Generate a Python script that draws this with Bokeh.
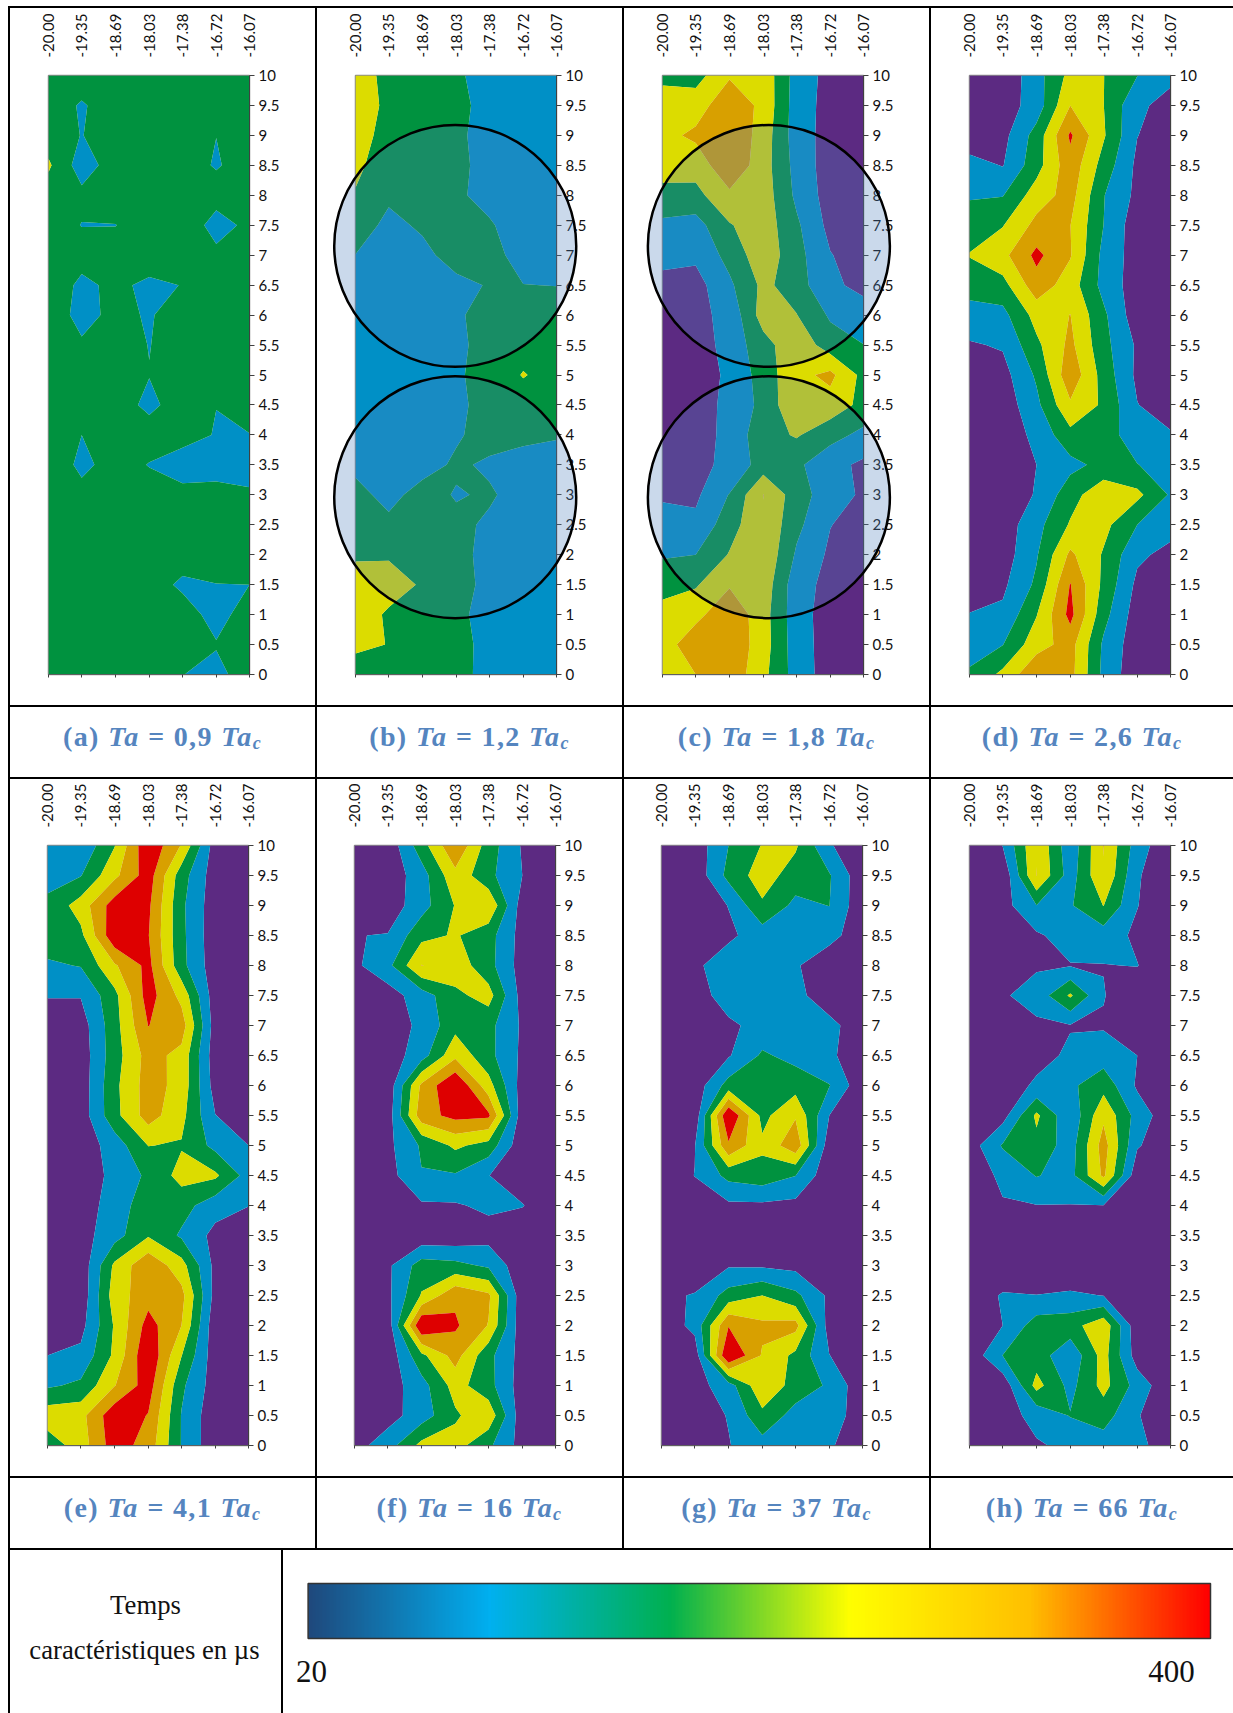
import numpy as np
from bokeh.embed import file_html
from bokeh.resources import INLINE
from bokeh.layouts import column, row
from bokeh.models import (CustomJSTickFormatter, Div, FixedTicker, LinearAxis,
                          LinearColorMapper, NumeralTickFormatter, Range1d, Spacer)
from bokeh.plotting import figure
from bokeh.core.properties import value

x_values = [-20.00, -19.35, -18.69, -18.03, -17.38, -16.72, -16.07]
y_values = [10, 9.5, 9, 8.5, 8, 7.5, 7, 6.5, 6, 5.5, 5, 4.5, 4, 3.5, 3, 2.5, 2, 1.5, 1, 0.5, 0]
y_ticks = [0, 0.5, 1, 1.5, 2, 2.5, 3, 3.5, 4, 4.5, 5, 5.5, 6, 6.5, 7, 7.5, 8, 8.5, 9, 9.5, 10]
levels = [-1, 1, 2, 3, 4, 5, 8]
band_colors = ["#5C2A82", "#0090C6", "#00923F", "#DCDC00", "#D8A000", "#DE0000"]

panel_a = [
 [2.5,2.5,2.5,2.5,2.5,2.5,2.5],[2.5,1.9,2.5,2.5,2.5,2.5,2.5],[2.5,1.97,2.5,2.5,2.5,2.01,2.5],
 [3.15,1.5,2.5,2.5,2.5,1.9,2.5],[2.5,2.25,2.5,2.5,2.5,2.5,2.5],[2.5,1.97,1.98,2.5,2.9,1.5,2.3],
 [2.5,2.5,2.5,2.8,2.5,2.3,2.5],[2.9,1.7,2.3,1.7,2.04,2.5,2.5],[2.9,1.5,2.4,1.85,2.8,2.5,2.5],
 [2.5,2.2,2.5,1.97,2.5,2.5,2.5],[2.5,2.5,2.5,2.03,2.5,2.5,2.5],[2.5,2.5,2.5,1.75,2.5,2.01,2.5],
 [2.5,2.0,2.5,2.5,2.3,1.95,1.97],[2.9,1.7,2.5,1.95,1.6,1.3,1.4],[2.5,2.4,2.5,2.5,2.25,2.55,2.2],
 [2.5,2.5,2.5,2.5,2.5,2.5,2.5],[2.5,2.5,2.5,2.5,2.5,2.5,2.5],[2.5,2.5,2.5,2.5,1.8,1.98,2.0],
 [2.5,2.5,2.5,2.5,2.5,1.6,2.5],[2.5,2.5,2.5,2.5,2.5,2.07,2.5],[2.5,2.5,2.5,2.5,2.02,1.7,2.53]]
panel_b = [
 [3.5,2.7,2.5,2.15,1.6,1.5,1.5],[3.5,2.8,2.6,2.2,1.75,1.5,1.5],[3.4,2.66,2.6,2.15,1.7,1.5,1.5],
 [3.3,2.27,2.6,2.2,1.72,1.5,1.5],[2.9,2.2,2.5,2.15,1.7,1.5,1.5],[2.6,1.7,2.17,2.5,2.1,1.5,1.5],
 [1.98,1.5,1.7,2.47,2.4,1.55,1.5],[1.5,1.5,1.5,1.7,2.08,2.02,1.98],[1.5,1.5,1.5,1.85,2.4,2.5,2.5],
 [1.5,1.5,1.5,1.8,2.34,2.6,2.6],[1.5,1.5,1.5,1.87,2.37,3.06,2.6],[1.5,1.5,1.5,1.8,2.34,2.5,2.5],
 [1.5,1.5,1.5,1.85,2.48,2.3,2.1],[1.7,1.6,1.5,2.2,1.8,1.5,1.5],[2.4,1.6,2.5,1.9,2.15,1.5,1.5],
 [2.6,2.3,2.5,2.3,1.8,1.5,1.5],[2.85,2.9,2.6,2.3,1.7,1.5,1.5],[3.5,3.4,2.9,2.3,1.78,1.5,1.5],
 [3.5,2.87,2.6,2.2,1.68,1.5,1.5],[3.4,2.95,2.6,2.3,1.72,1.5,1.5],[2.05,2.6,2.6,2.3,1.7,1.5,1.5]]
panel_c = [
 [2.85,2.6,3.9,3.7,1.57,.67,.5],[3.3,3.55,4.67,3.75,1.5,.64,.5],[3.72,4.2,4.9,3.55,1.5,.6,.5],
 [3.35,3.4,4.8,3.45,1.65,.5,.5],[2.75,2.7,3.8,3.54,1.79,.55,.5],[1.76,1.6,2.92,3.57,2.18,.7,.5],
 [1.3,1.2,2.34,3.64,2.36,1.05,.5],[.7,.62,1.81,3.24,2.51,1.09,.88],[.7,.75,1.27,3.47,3.03,1.86,1.2],
 [.5,.45,1.4,2.6,3.74,2.46,2.02],[.5,.65,1.13,2.47,3.7,4.25,2.69],[.5,.65,1.2,2.3,3.85,3.6,2.7],
 [.5,.5,1.32,2.6,3.1,2.35,1.74],[.5,.83,1.15,2.5,2.2,1.33,.8],[.8,.82,2.05,4.02,2.47,1.45,.85],
 [1.6,1.23,2.56,3.9,2.26,1.03,.6],[1.9,2.0,3.07,3.86,1.86,.82,.5],[2.6,2.9,3.9,3.62,1.4,.71,.5],
 [3.4,3.7,4.75,3.42,1.42,.55,.5],[3.5,4.66,4.8,3.46,1.46,.56,.5],[3.1,4.0,4.7,3.27,1.57,.5,.5]]
panel_d = [
 [.3,.25,1.6,3.3,3.02,2.02,1.2],[.3,.52,1.43,4.0,3.02,1.17,.7],[.3,.68,2.4,5.15,3.12,1.02,.5],
 [1.4,.95,2.6,4.65,2.6,.78,.5],[1.9,1.95,3.5,4.4,2.05,.75,.5],[2.5,2.95,4.3,4.02,2.0,.4,.4],
 [3.05,3.72,5.25,4.08,1.71,.53,.4],[2.4,2.64,4.6,3.5,1.68,.47,.4],[1.6,1.7,3.37,4.02,2.2,.4,.4],
 [.9,1.1,2.78,4.25,2.33,.85,.5],[.5,.63,2.15,4.7,2.6,.78,.5],[.3,.4,1.75,3.85,2.83,1.03,.5],
 [.3,.4,1.25,2.7,2.6,1.3,1.1],[.3,.5,1.0,1.7,2.3,2.03,1.5],[.3,.6,1.05,2.6,3.7,3.25,1.88],
 [.3,.45,1.67,3.1,3.3,2.0,1.4],[.3,.5,1.9,4.2,2.9,1.2,.7],[.7,.8,2.2,5.05,2.76,.76,.6],
 [1.02,1.2,2.95,5.3,2.35,.5,.4],[1.7,1.97,3.6,4.4,1.83,.4,.4],[2.1,3.25,4.85,4.34,1.74,.3,.3]]
panel_e = [
 [1.6,1.2,2.95,5.85,3.93,.48,.3],[1.7,1.95,3.75,5.5,2.45,.45,.3],[2.2,3.45,5.5,5.2,2.2,.4,.3],
 [2.55,2.75,5.75,5.05,2.25,.35,.3],[1.85,2.05,3.87,5.3,2.3,.4,.3],[1.05,1.05,2.7,5.45,3.7,.4,.3],
 [.5,.5,2.6,5.02,4.5,.5,.3],[.3,.4,2.56,4.38,3.7,.4,.3],[.3,.4,2.75,4.45,3.65,.55,.3],
 [.3,.45,2.68,4.45,3.3,1.02,.5],[.3,.4,1.45,3.02,2.92,1.7,1.0],[.3,.5,1.22,2.2,3.35,3.19,1.58],
 [.3,.6,1.34,2.7,2.4,1.4,1.02],[.3,.6,1.6,2.9,1.85,.7,.4],[.3,.3,3.2,4.8,3.4,.7,.3],
 [.3,.3,3.5,4.6,4.33,.63,.3],[.3,.65,3.1,5.4,4.0,.3,.3],[1.0,1.25,3.2,5.89,3.03,.4,.3],
 [1.85,2.2,3.95,5.5,2.2,.5,.3],[3.6,3.68,5.68,4.95,1.95,.3,.3],[2.4,3.5,5.52,4.58,1.95,.3,.3]]
panel_f = [
 [.3,.3,2.55,4.9,2.5,.9,.3],[.3,.35,1.55,3.7,2.27,1.0,.3],[.3,.4,1.6,3.05,3.9,.5,.3],
 [.97,1.05,2.7,3.1,2.4,.6,.3],[.8,1.7,4.03,3.6,2.35,.55,.3],[.3,.55,1.5,2.75,3.4,.6,.3],
 [.3,.5,1.2,2.68,2.3,.85,.3],[.3,.45,1.53,3.75,2.3,.8,.3],[.3,.3,4.2,6.0,3.4,.55,.3],
 [.3,.44,4.6,5.3,5.2,.4,.3],[.3,.74,2.13,3.2,2.6,.3,.3],[.3,.6,1.95,1.9,1.02,.4,.3],
 [.3,.3,.85,.9,1.2,1.05,.3],[.3,.3,.3,.3,.6,.3,.3],[.3,.8,2.47,2.3,1.83,.3,.3],
 [.3,.75,3.08,4.8,4.2,.3,.3],[.3,.36,6.0,5.15,3.95,.3,.3],[.3,.3,2.75,4.4,2.3,.6,.3],
 [.3,.5,1.6,3.4,2.35,.5,.3],[.3,.6,1.5,2.85,3.7,.35,.3],[.6,1.55,3.3,3.4,2.2,.6,.3]]
panel_g = [
 [.3,.4,2.0,3.05,3.15,1.1,.3],[.3,.3,2.3,3.5,2.5,2.1,.3],[.3,.3,1.03,2.85,1.75,2.02,.3],
 [.3,.3,.8,1.5,1.5,1.3,.47],[.3,.8,1.57,1.5,1.1,.4,.3],[.3,.5,1.5,1.5,1.2,.6,.3],
 [.3,.3,.8,1.35,1.6,1.2,.6],[.3,.3,.9,2.15,1.67,1.12,.6],[.3,.4,2.4,3.0,2.6,2.05,.3],
 [.3,.3,6.0,2.7,3.9,1.0,.3],[.3,.95,4.85,3.2,4.7,.4,.3],[.3,1.02,2.3,2.6,2.02,.3,.3],
 [.3,.5,.8,.8,.7,.3,.3],[.3,.3,.3,.3,.3,.3,.3],[.3,.5,.9,.85,.7,.3,.3],
 [.85,1.05,2.4,3.0,2.25,.8,.3],[.3,1.3,4.95,4.2,4.35,.55,.3],[.3,.4,6.1,3.9,2.75,1.02,.3],
 [.3,.6,1.53,3.8,2.6,1.85,.3],[.3,.5,1.05,2.75,1.6,1.5,.5],[.3,.3,.95,1.6,1.6,1.1,.5]]
panel_h = [
 [.2,1.03,3.95,1.3,4.03,1.5,.2],[.2,.2,4.02,1.5,3.95,1.1,.3],[.2,.6,1.98,1.9,3.02,1.03,.3],
 [.2,.3,.85,1.45,1.5,.8,.3],[.2,.3,.9,.95,.97,1.03,.3],[.2,.9,1.35,3.15,1.05,.3,.2],
 [.2,.3,.85,.95,.9,.3,.2],[.2,.3,.7,1.15,1.5,1.0,.3],[.2,.5,1.15,1.8,2.65,.85,.3],
 [.2,.6,3.2,1.2,3.8,1.6,.3],[.5,2.1,2.7,1.5,4.45,1.1,.3],[.3,1.25,2.05,1.65,4.2,.3,.2],
 [.2,.9,.97,.97,.98,.4,.2],[.2,.2,.2,.2,.2,.2,.2],[.2,.2,.2,.2,.2,.2,.2],
 [.4,1.1,1.02,1.15,.98,.3,.2],[.3,1.0,2.5,2.6,3.7,.3,.2],[.3,2.02,2.5,1.25,3.4,.5,.2],
 [.3,.3,3.36,1.68,3.33,1.6,.2],[.2,.6,1.3,2.05,2.45,1.05,.5],[.2,.2,.9,1.2,1.5,1.3,.4]]

captions = ["(a)|0,9", "(b)|1,2", "(c)|1,8", "(d)|2,6", "(e)|4,1", "(f)|16", "(g)|37", "(h)|66"]
circle_x_b = [-18.05, -18.05]
circle_x_c = [-17.92, -17.92]
circle_y = [7.155, 2.96]
legend_title = ["Temps", "caractéristiques en µs"]
legend_range = [20, 400]
legend_stops = ["#1F497D", "#00B0F0", "#00B050", "#FFFF00", "#FFC000", "#FF0000"]

TICK_FONT = "Lato"
CELL_W = [305, 305, 305, 302]
ROW_H = 697
FRAME_W = 201
TICK_OUT = 3
BELOW = 10


def panel(data, cell_w, left, top, frame_h):
    fig_h = top + frame_h + BELOW
    p = figure(width=cell_w, height=fig_h, x_range=Range1d(x_values[0], x_values[-1]),
               y_range=Range1d(0, 10), x_axis_location="above", y_axis_location="right",
               toolbar_location=None, output_backend="svg", min_border_left=left,
               min_border_right=cell_w - left - FRAME_W, min_border_top=top, min_border_bottom=BELOW,
               outline_line_color="#8c8c8c", outline_line_width=1.5, margin=0)
    p.grid.visible = False
    z = np.array(data, dtype=float)[::-1]
    ys = np.array(y_values, dtype=float)[::-1]
    p.contour(np.array(x_values), ys, z, levels, fill_color=band_colors, line_color=None)

    ax = p.above[0]
    ax.ticker = FixedTicker(ticks=x_values)
    ax.formatter = NumeralTickFormatter(format="0.00")
    ax.major_label_orientation = "vertical"
    ax.major_tick_line_color = None
    ax.minor_tick_line_color = None
    ax.axis_line_color = None
    ax.major_label_standoff = 12
    ax.major_label_text_font = TICK_FONT
    ax.major_label_text_font_size = "15px"
    ax.major_label_text_color = "#111111"

    bx = LinearAxis(ticker=FixedTicker(ticks=x_values),
                    formatter=CustomJSTickFormatter(code='return ""'))
    bx.major_tick_in = 0
    bx.major_tick_out = TICK_OUT
    bx.major_label_standoff = 0
    bx.major_label_text_font_size = "0px"
    bx.minor_tick_line_color = None
    bx.major_tick_line_color = "#404040"
    bx.axis_line_color = "#606060"
    p.add_layout(bx, "below")

    ay = p.right[0]
    ay.ticker = FixedTicker(ticks=y_ticks)
    ay.formatter = CustomJSTickFormatter(code="return String(tick)")
    ay.major_tick_in = 0
    ay.major_tick_out = 5
    ay.minor_tick_line_color = None
    ay.major_tick_line_color = "#404040"
    ay.axis_line_color = "#404040"
    ay.major_label_standoff = 4
    ay.major_label_text_font = TICK_FONT
    ay.major_label_text_font_size = "15px"
    ay.major_label_text_color = "#111111"
    return column(p, Spacer(width=cell_w, height=ROW_H - fig_h, margin=0), spacing=0, margin=0)


def overlay(cell_w, left, top, frame_h, cx, cy):
    """Same data scale as the panel, on a frame as large as the whole cell, so the rings may pass its axes."""
    kx = (x_values[-1] - x_values[0]) / FRAME_W
    ky = 10 / frame_h
    o = figure(width=cell_w, height=ROW_H,
               x_range=Range1d(x_values[0] - left * kx, x_values[0] + (cell_w - left) * kx),
               y_range=Range1d(10 - (ROW_H - top) * ky, 10 + top * ky),
               toolbar_location=None, output_backend="svg", x_axis_location=None, y_axis_location=None,
               outline_line_color=None, background_fill_color=None, border_fill_color=None,
               min_border=0, margin=(0, 0, 0, -cell_w))
    o.grid.visible = False
    o.scatter(x=cx, y=cy, size=242, marker="circle", fill_color="#4F81BD", fill_alpha=0.3,
              line_color="black", line_alpha=1, line_width=2.5)
    return o


def hline():
    return Spacer(width=1225, height=2, margin=0, styles={"background-color": "black"})


def vline(h):
    return Spacer(width=2, height=h, margin=0, styles={"background-color": "black"})


def caption(label, w):
    tag, val = label.split("|")
    html = (f'<div style="width:{w}px;height:70px;box-sizing:border-box;padding-bottom:10px;display:flex;'
            f'align-items:center;justify-content:center;color:#5585BF;font-size:28px;letter-spacing:1.4px;'
            f"white-space:pre;font-family:'Liberation Serif';font-weight:bold;font-style:italic;\">"
            f'<span style="font-style:normal">{tag} </span><span>Ta = </span>'
            f'<span style="font-style:normal">{val} </span><span>Ta</span>'
            f'<span style="font-size:18px;position:relative;top:7px">c</span></div>')
    return Div(text=html, width=w, height=70, margin=0)


def cells_row(items, h):
    kids = []
    for it in items:
        if isinstance(it, (list, tuple)):
            kids += [vline(h), *it]
        else:
            kids += [vline(h), it]
    return row(*kids, spacing=0, margin=0)


row1 = [panel(panel_a, CELL_W[0], 38, 67, 599),
        [panel(panel_b, CELL_W[1], 38, 67, 599), overlay(CELL_W[1], 38, 67, 599, circle_x_b, circle_y)],
        [panel(panel_c, CELL_W[2], 38, 67, 599), overlay(CELL_W[2], 38, 67, 599, circle_x_c, circle_y)],
        panel(panel_d, CELL_W[3], 38, 67, 599)]
row2 = [panel(panel_e, CELL_W[0], 37, 66, 600),
        panel(panel_f, CELL_W[1], 37, 66, 600),
        panel(panel_g, CELL_W[2], 37, 66, 600),
        panel(panel_h, CELL_W[3], 38, 66, 600)]
cap1 = [caption(c, w) for c, w in zip(captions[:4], CELL_W)]
cap2 = [caption(c, w) for c, w in zip(captions[4:], CELL_W)]

# legend row
LEG_H = 163
left_fig = figure(width=271, height=LEG_H, x_range=Range1d(0, 271), y_range=Range1d(0, LEG_H),
                  toolbar_location=None, output_backend="svg", x_axis_location=None, y_axis_location=None,
                  outline_line_color=None, min_border=0, margin=0)
left_fig.grid.visible = False
left_fig.text(x=[135, 134], y=[109, 64], text=legend_title, text_align="center", text_baseline="middle",
              text_font=value("Liberation Serif"), text_font_size="26.7px", text_color="#111111")


def blend(stops, n):
    rgb = np.array([[int(s[i:i + 2], 16) for i in (1, 3, 5)] for s in stops], dtype=float)
    pos = np.linspace(0, 1, len(stops))
    u = np.linspace(0, 1, n)
    out = np.stack([np.interp(u, pos, rgb[:, k]) for k in range(3)], axis=1).astype(int)
    return ["#%02x%02x%02x" % tuple(c) for c in out]


low, high = legend_range
scale = (high - low) / 902.4
right_fig = figure(width=950, height=LEG_H, x_range=Range1d(low - 24.6 * scale, high + 23 * scale),
                   y_range=Range1d(0, LEG_H), toolbar_location=None, output_backend="svg",
                   x_axis_location=None, y_axis_location=None, outline_line_color=None, min_border=0, margin=0)
right_fig.grid.visible = False
mapper = LinearColorMapper(palette=blend(legend_stops, 256), low=low, high=high)
right_fig.image(image=[np.linspace(low, high, 256).reshape(1, 256)], x=low, y=75, dw=high - low, dh=55,
                color_mapper=mapper)
right_fig.quad(left=[low], right=[high], bottom=[75], top=[130], fill_color=None, line_color="#333333", line_width=1.5)
right_fig.text(x=[low + 1.4, high - 16.4], y=[42, 42], text=[str(low), str(high)], text_align="center",
               text_baseline="middle", text_font=value("Liberation Serif"), text_font_size="31px", text_color="#111111")

root = column(hline(), cells_row(row1, ROW_H), hline(), cells_row(cap1, 70), hline(),
              cells_row(row2, ROW_H), hline(), cells_row(cap2, 70), hline(),
              row(vline(LEG_H), left_fig, vline(LEG_H), right_fig, spacing=0, margin=0),
              spacing=0, margin=(6, 0, 0, 8))

open("out.html", "w").write(file_html(root, INLINE))
